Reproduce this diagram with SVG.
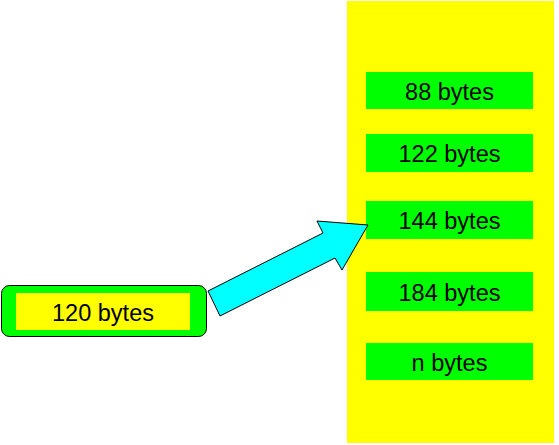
<svg xmlns="http://www.w3.org/2000/svg" width="559" height="445" viewBox="0 0 559 445">
<style>
.lbl{font-family:"Liberation Sans",Arial,sans-serif;font-size:23.5px;fill:#000;text-anchor:middle;dominant-baseline:central}
.cell{fill:#00ff00}
</style>
<rect width="559" height="445" fill="#fff"/>
<g id="pool">
<rect x="347" y="1" width="207" height="442" fill="#ffff00"/>
</g>
<g id="b88"><rect class="cell" x="366" y="72" width="167" height="37"/><text class="lbl" x="449.5" y="91.5">88 bytes</text></g>
<g id="b122"><rect class="cell" x="366" y="134" width="167" height="38"/><text class="lbl" x="449.5" y="154">122 bytes</text></g>
<g id="b144"><rect class="cell" x="366" y="201" width="167" height="38"/><text class="lbl" x="449.5" y="221">144 bytes</text></g>
<g id="b184"><rect class="cell" x="366" y="272" width="167" height="39"/><text class="lbl" x="449.5" y="292.5">184 bytes</text></g>
<g id="bn"><rect class="cell" x="366" y="343" width="167" height="37"/><text class="lbl" x="449.5" y="362.5">n bytes</text></g>
<g id="req">
<rect x="1.5" y="285.5" width="205" height="51" rx="8" fill="#00ff00" stroke="#000" stroke-width="1"/>
<rect x="16" y="293" width="174" height="37" fill="#ffff00"/>
<text class="lbl" x="103" y="312.5">120 bytes</text>
</g>
<g id="connectors">
<polygon points="208,291 323,233 317,221 368,225 342,270 335,258 220,316" fill="#00ffff" stroke="#000" stroke-width="1" stroke-linejoin="miter"/>
</g>
</svg>
